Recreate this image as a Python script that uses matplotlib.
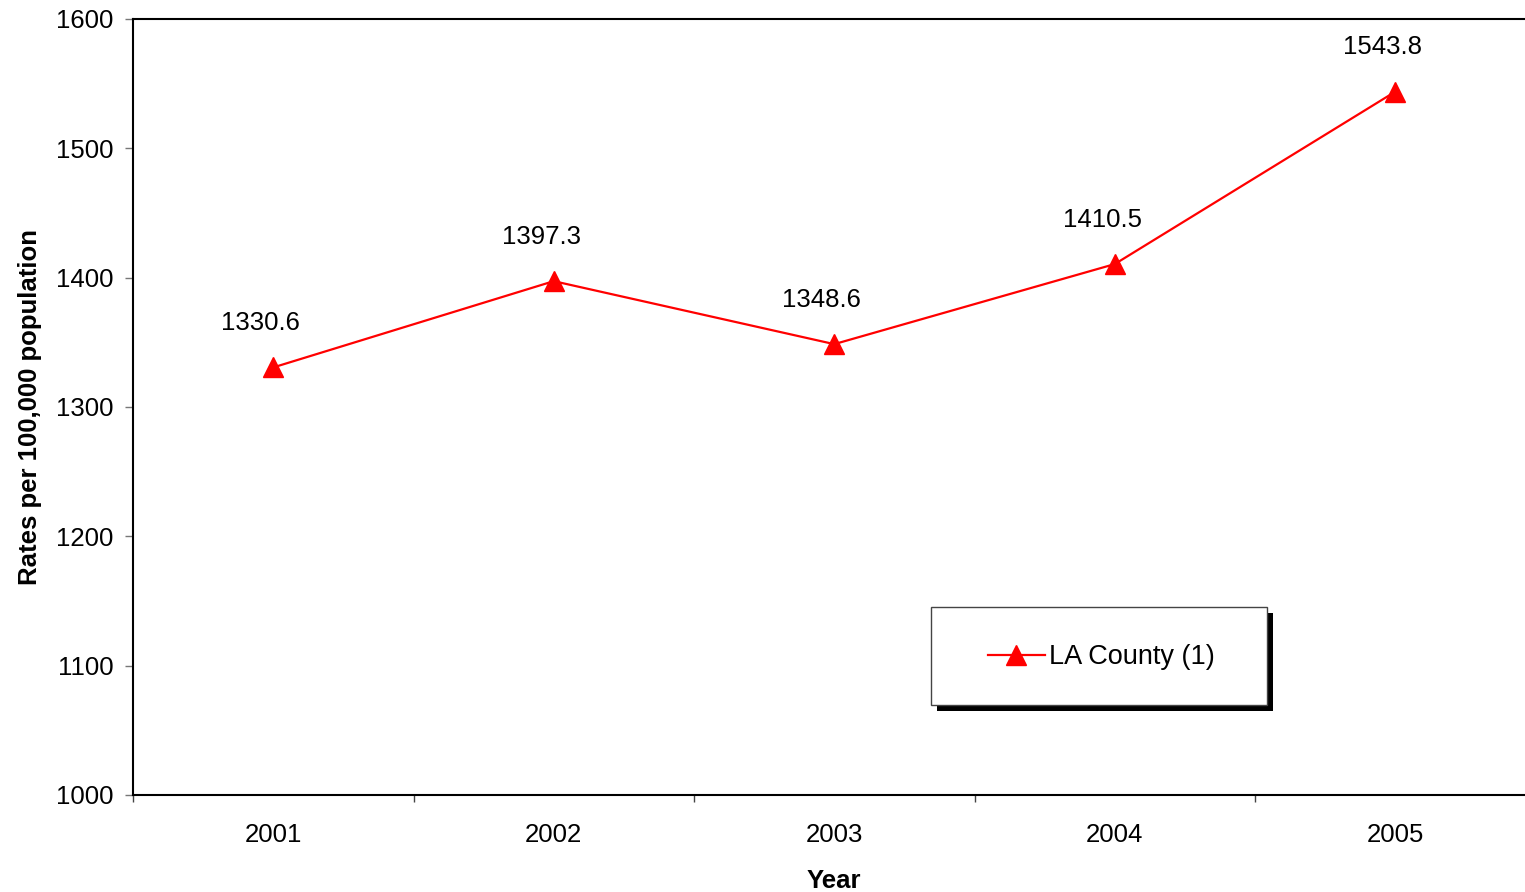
import matplotlib.pyplot as plt
from matplotlib.patches import Rectangle
import matplotlib.patheffects as pe

plt.rcParams['font.family'] = ['Liberation Sans', 'DejaVu Sans']

years = ['2001', '2002', '2003', '2004', '2005']
rates = [1330.6, 1397.3, 1348.6, 1410.5, 1543.8]
series_name = 'LA County (1)'
yticks = [1000, 1100, 1200, 1300, 1400, 1500, 1600]

fs = 18.5

fig = plt.figure(figsize=(15.25, 8.92), dpi=100)
ax = fig.add_axes([133 / 1525, 1 - 795 / 892, 1402.5 / 1525, 776 / 892])

x = list(range(len(years)))
ax.plot(x, rates, color='#ff0000', lw=1.6, marker='^', markersize=14,
        label=series_name, clip_on=False, zorder=3)

for xi, v in zip(x, rates):
    ax.annotate(f'{v:.1f}', (xi, v), xytext=(-9, 32), textcoords='offset points',
                ha='center', va='center', fontsize=fs)

ax.set_xlim(-0.5, len(years) - 0.5)
ax.set_ylim(1000, 1600)
ax.set_yticks(yticks)
ax.set_xticks(x)
ax.set_xticklabels(years)
ax.set_xticks([i - 0.5 for i in range(len(years) + 1)], minor=True)
ax.tick_params(axis='x', which='major', length=0, pad=20, labelsize=fs)
ax.tick_params(axis='x', which='minor', length=5, width=1, color='#444444', direction='out')
ax.tick_params(axis='y', length=6, width=1, color='#777777', direction='out', pad=8, labelsize=fs)

for s in ax.spines.values():
    s.set_linewidth(1.5)
    s.set_color('black')

ax.set_xlabel('Year', fontsize=fs, fontweight='bold', labelpad=16)
ax.set_ylabel('Rates per 100,000 population', fontsize=fs, fontweight='bold', labelpad=10)

# legend box with solid shadow
box = Rectangle((931 / 1525, 1 - 705 / 892), 336 / 1525, 98 / 892,
                transform=fig.transFigure, facecolor='white', edgecolor='#444444',
                lw=1, zorder=5)
box.set_path_effects([pe.SimplePatchShadow(offset=(4, -4), shadow_rgbFace='black', alpha=1),
                      pe.Normal()])
fig.patches.append(box)
leg = fig.legend(loc='center', bbox_to_anchor=(1101 / 1525, 1 - 657 / 892),
                 frameon=False, fontsize=19.5, handlelength=2.1, handletextpad=0.15,
                 markerscale=1.0)
leg.set_zorder(6)

fig.savefig('out.png', dpi=100)
